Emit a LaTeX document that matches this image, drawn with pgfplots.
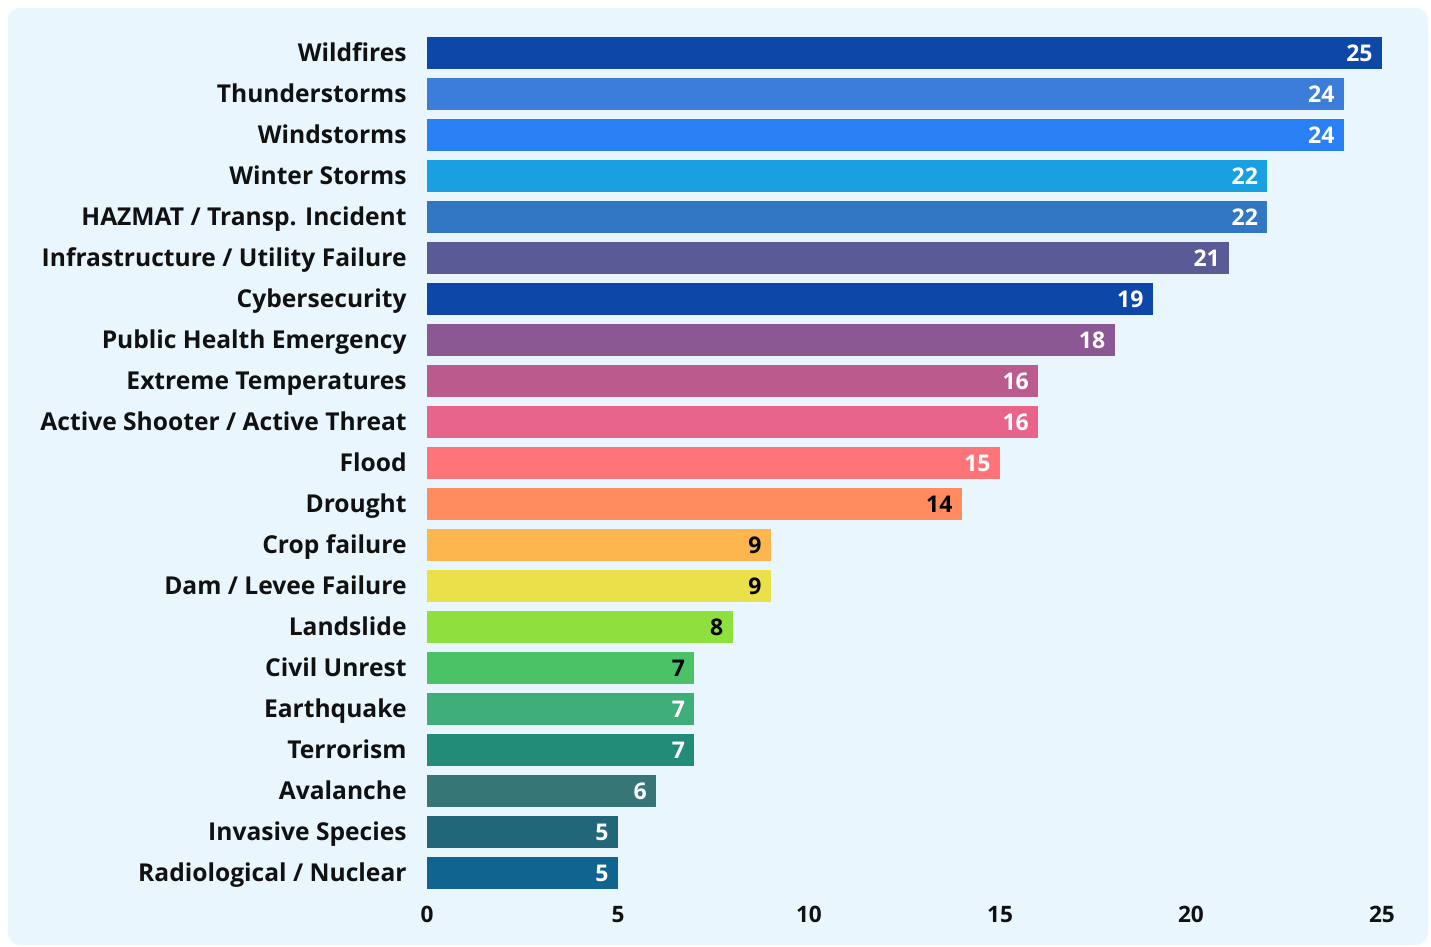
\documentclass[border=0pt]{standalone}
\usepackage{pgfplots}
\pgfplotsset{compat=1.18}
\usepackage{fontspec}
\setmainfont{Open Sans}
\definecolor{bgpanel}{HTML}{EAF6FD}
\definecolor{txt}{HTML}{111111}
\definecolor{c0}{HTML}{0D47A8}
\definecolor{c1}{HTML}{3B7DD8}
\definecolor{c2}{HTML}{2A80F5}
\definecolor{c3}{HTML}{18A0E0}
\definecolor{c4}{HTML}{3277C4}
\definecolor{c5}{HTML}{5A5A96}
\definecolor{c6}{HTML}{0D47A8}
\definecolor{c7}{HTML}{8B5894}
\definecolor{c8}{HTML}{BB5A8C}
\definecolor{c9}{HTML}{E8648A}
\definecolor{c10}{HTML}{FF7479}
\definecolor{c11}{HTML}{FF8C5E}
\definecolor{c12}{HTML}{FDB64E}
\definecolor{c13}{HTML}{EAE047}
\definecolor{c14}{HTML}{8EE03F}
\definecolor{c15}{HTML}{4CC266}
\definecolor{c16}{HTML}{3FAE78}
\definecolor{c17}{HTML}{238C78}
\definecolor{c18}{HTML}{377676}
\definecolor{c19}{HTML}{22667A}
\definecolor{c20}{HTML}{106490}
\begin{document}
\begin{tikzpicture}
% full image: px 0..1431 x 0..947 ; tikz x=(X-427)*0.5pt, y=(893.5-Y)*0.5pt
\useasboundingbox (-213.5pt,-26.75pt) rectangle (502pt,446.75pt);
\fill[white] (-213.5pt,-26.75pt) rectangle (502pt,446.75pt);
\fill[bgpanel, rounded corners=6pt] (-209.5pt,-25.75pt) rectangle (500.5pt,442.75pt);
\begin{axis}[
  at={(0pt,0pt)}, anchor=south west,
  scale only axis,
  width=477.5pt, height=430.5pt,
  xmin=0, xmax=25,
  ymin=-0.5, ymax=20.5,
  y dir=reverse,
  axis line style={draw=none},
  major tick length=0pt,
  xtick={0,5,10,15,20,25},
  ytick={0,...,20},
  yticklabels={Wildfires,Thunderstorms,Windstorms,Winter Storms,HAZMAT / Transp. Incident,Infrastructure / Utility Failure,Cybersecurity,Public Health Emergency,Extreme Temperatures,Active Shooter / Active Threat,Flood,Drought,Crop failure,Dam / Levee Failure,Landslide,Civil Unrest,Earthquake,Terrorism,Avalanche,Invasive Species,Radiological / Nuclear},
  yticklabel style={inner sep=0pt, xshift=-10pt, yshift=-1pt, text height=9pt, text depth=2.6pt, font=\fontsize{12.3}{14}\selectfont\bfseries, text=txt},
  xticklabel style={inner sep=0pt, yshift=-6pt, font=\fontsize{11.3}{13}\selectfont\bfseries, text=txt},
  /pgf/number format/assume math mode=true,
  xbar, bar width=16pt, bar shift=0pt,
  nodes near coords,
  nodes near coords style={anchor=east, xshift=-4.5pt, inner sep=0pt, font=\fontsize{11.5}{13}\selectfont\bfseries},
  every node near coord/.append style={anchor=east},
]
\addplot[fill=c0, draw=none, nodes near coords style={text=white}] coordinates {(25,0)};
\addplot[fill=c1, draw=none, nodes near coords style={text=white}] coordinates {(24,1)};
\addplot[fill=c2, draw=none, nodes near coords style={text=white}] coordinates {(24,2)};
\addplot[fill=c3, draw=none, nodes near coords style={text=white}] coordinates {(22,3)};
\addplot[fill=c4, draw=none, nodes near coords style={text=white}] coordinates {(22,4)};
\addplot[fill=c5, draw=none, nodes near coords style={text=white}] coordinates {(21,5)};
\addplot[fill=c6, draw=none, nodes near coords style={text=white}] coordinates {(19,6)};
\addplot[fill=c7, draw=none, nodes near coords style={text=white}] coordinates {(18,7)};
\addplot[fill=c8, draw=none, nodes near coords style={text=white}] coordinates {(16,8)};
\addplot[fill=c9, draw=none, nodes near coords style={text=white}] coordinates {(16,9)};
\addplot[fill=c10, draw=none, nodes near coords style={text=white}] coordinates {(15,10)};
\addplot[fill=c11, draw=none, nodes near coords style={text=black}] coordinates {(14,11)};
\addplot[fill=c12, draw=none, nodes near coords style={text=black}] coordinates {(9,12)};
\addplot[fill=c13, draw=none, nodes near coords style={text=black}] coordinates {(9,13)};
\addplot[fill=c14, draw=none, nodes near coords style={text=black}] coordinates {(8,14)};
\addplot[fill=c15, draw=none, nodes near coords style={text=black}] coordinates {(7,15)};
\addplot[fill=c16, draw=none, nodes near coords style={text=white}] coordinates {(7,16)};
\addplot[fill=c17, draw=none, nodes near coords style={text=white}] coordinates {(7,17)};
\addplot[fill=c18, draw=none, nodes near coords style={text=white}] coordinates {(6,18)};
\addplot[fill=c19, draw=none, nodes near coords style={text=white}] coordinates {(5,19)};
\addplot[fill=c20, draw=none, nodes near coords style={text=white}] coordinates {(5,20)};
\end{axis}
\end{tikzpicture}
\end{document}
